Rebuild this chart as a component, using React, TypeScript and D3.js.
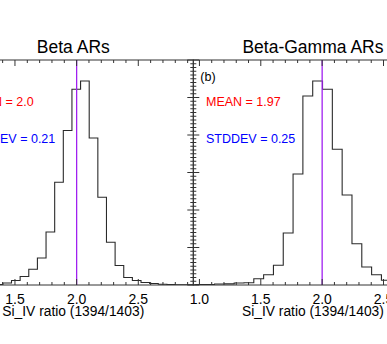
import * as d3 from 'd3'
import React, { useEffect, useRef } from 'react'

// panel titles, annotations
const titles = ['Beta ARs', 'Beta-Gamma ARs']
const panelTags = ['(a)', '(b)']
const means = ['2.0', '1.97']
const stddevs = ['0.21', '0.25']
const xLabel = 'Si_IV ratio (1394/1403)'
const xTickValues = [1.0, 1.5, 2.0, 2.5]
const xTickLabels = ['1.0', '1.5', '2.0', '2.5']
const refRatio = 2.0

// histogram bins (percent of ARs)
const betaBinStart = 1.262
const betaBinWidth = 0.07
const betaCounts = [
  0.02, 0.05, 0.27, 0.6, 1.13, 2.1, 3.6, 7.07, 13.7, 20.6, 26.1, 27.2, 19.6,
  11.7, 5.7, 2.6, 1.0, 0.6, 0.33, 0.2, 0.1, 0.07, 0.04, 0.02
]
const gammaBinStart = 0.963
const gammaBinWidth = 0.08
const gammaCounts = [
  0.05, 0.05, 0.13, 0.15, 0.27, 0.3, 0.84, 1.37, 2.63, 6.93, 14.8, 25.2, 27.2,
  26.1, 18.1, 12.0, 5.5, 2.4, 1.37, 0.63, 0.35, 0.2, 0.1, 0.05
]

export default function App() {
  const sandbox = useRef(null)

  useEffect(() => {
    const svg = d3.select(sandbox.current)
    svg.selectAll('*').remove()

    const font = 'Liberation Sans, Arial, Helvetica, sans-serif'
    const top = 60
    const bottom = 285
    const axisColor = '#333'

    const y = d3.scaleLinear().domain([0, 30]).range([bottom, top])

    const panels = [
      {
        x: d3.scaleLinear().domain([1.0, 2.946]).range([-46.7, 193.3]),
        start: betaBinStart,
        width: betaBinWidth,
        counts: betaCounts
      },
      {
        x: d3.scaleLinear().domain([0.95, 2.9]).range([193.3, 432.6]),
        start: gammaBinStart,
        width: gammaBinWidth,
        counts: gammaCounts
      }
    ]

    panels.forEach((p, i) => {
      const [x0, x1] = p.x.range()
      const g = svg.append('g')

      const clipId = 'clip' + i
      svg
        .append('defs')
        .append('clipPath')
        .attr('id', clipId)
        .append('rect')
        .attr('x', x0)
        .attr('y', top)
        .attr('width', x1 - x0)
        .attr('height', bottom - top)

      //histogram
      const pts = [{ x: p.start, v: 0 }]
      p.counts.forEach((v, k) => pts.push({ x: p.start + k * p.width, v }))
      const end = p.start + p.counts.length * p.width
      pts.push({ x: end, v: p.counts[p.counts.length - 1] })
      pts.push({ x: end, v: 0 })
      const line = d3
        .line<any>()
        .x(d => p.x(d.x))
        .y(d => y(d.v))
        .curve(d3.curveStepAfter)
      g.append('path')
        .attr('d', line(pts))
        .attr('fill', 'none')
        .attr('stroke', '#2a2a2a')
        .attr('stroke-width', 1.1)
        .attr('clip-path', `url(#${clipId})`)

      //reference line
      g.append('line')
        .attr('x1', p.x(refRatio))
        .attr('x2', p.x(refRatio))
        .attr('y1', top)
        .attr('y2', bottom)
        .attr('stroke', '#a020f0')
        .attr('stroke-width', 1.3)

      //frame
      g.append('rect')
        .attr('x', x0)
        .attr('y', top)
        .attr('width', x1 - x0)
        .attr('height', bottom - top)
        .attr('fill', 'none')
        .attr('stroke', axisColor)
        .attr('stroke-width', 1)

      //x ticks
      const [d0, d1] = p.x.domain()
      const minor = d3.range(Math.ceil(d0 * 10), Math.floor(d1 * 10) + 1).map(v => v / 10)
      minor.forEach(v => {
        const major = Math.abs(v * 2 - Math.round(v * 2)) < 1e-6
        const len = major ? 6 : 3
        g.append('line')
          .attr('x1', p.x(v)).attr('x2', p.x(v))
          .attr('y1', bottom).attr('y2', bottom - len)
          .attr('stroke', axisColor)
        g.append('line')
          .attr('x1', p.x(v)).attr('x2', p.x(v))
          .attr('y1', top).attr('y2', top + len)
          .attr('stroke', axisColor)
      })
      xTickValues.forEach((v, k) => {
        if (v < d0 || v > d1) return
        g.append('text')
          .attr('x', p.x(v))
          .attr('y', 303.5)
          .attr('text-anchor', 'middle')
          .attr('font-family', font)
          .attr('font-size', 14)
          .text(xTickLabels[k])
      })

      //y ticks
      d3.range(0, 61).map(v => v / 2).forEach(v => {
        const len = v % 5 === 0 ? 6 : 3
        g.append('line')
          .attr('x1', x0).attr('x2', x0 + len)
          .attr('y1', y(v)).attr('y2', y(v))
          .attr('stroke', axisColor)
        g.append('line')
          .attr('x1', x1).attr('x2', x1 - len)
          .attr('y1', y(v)).attr('y2', y(v))
          .attr('stroke', axisColor)
      })

      //labels
      const cx = (x0 + x1) / 2
      g.append('text')
        .attr('x', cx)
        .attr('y', 53.3)
        .attr('text-anchor', 'middle')
        .attr('font-family', font)
        .attr('font-size', 17.5)
        .text(titles[i])
      g.append('text')
        .attr('x', cx)
        .attr('y', 315.5)
        .attr('text-anchor', 'middle')
        .attr('font-family', font)
        .attr('font-size', 13.8)
        .text(xLabel)
      g.append('text')
        .attr('x', x0 + 7)
        .attr('y', 81)
        .attr('font-family', font)
        .attr('font-size', 12.5)
        .text(panelTags[i])
      g.append('text')
        .attr('x', x0 + 12.7)
        .attr('y', 106)
        .attr('font-family', font)
        .attr('font-size', 12.5)
        .attr('fill', '#ff0000')
        .text(`MEAN = ${means[i]}`)
      g.append('text')
        .attr('x', x0 + 12.7)
        .attr('y', 143.3)
        .attr('font-family', font)
        .attr('font-size', 12.5)
        .attr('fill', '#0000ff')
        .text(`STDDEV = ${stddevs[i]}`)
    })
  }, [sandbox])

  return (
    <svg
      ref={sandbox}
      width="387"
      height="344"
      style={{ position: 'absolute', left: 0, top: 0, background: '#fff' }}
    />
  )
}
